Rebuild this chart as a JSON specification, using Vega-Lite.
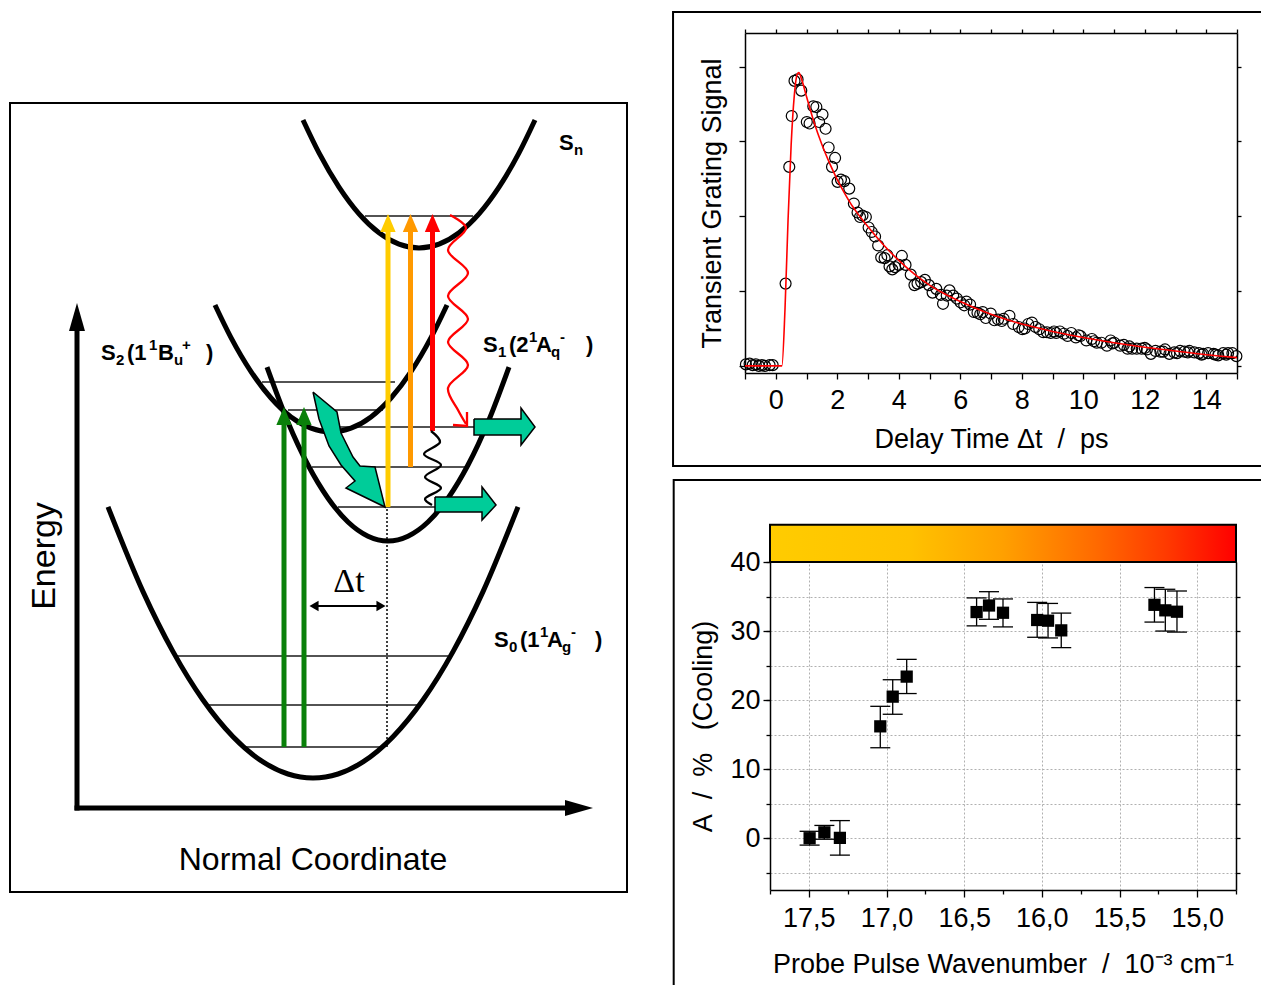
{
"$schema":"https://vega.github.io/schema/vega-lite/v6.json",
"width":1261,"height":985,"autosize":"none","padding":0,"background":"white",
"config":{"view":{"stroke":null},"font":"Liberation Sans","axis":{"labelFont":"Liberation Sans","titleFont":"Liberation Sans","labelColor":"black","titleColor":"black","tickColor":"black","domainColor":"black","titleFontWeight":"normal","grid":false,"tickWidth":1.3,"domainWidth":1.5}},
"datasets":{
"box":[{"x":-6.7,"x2":55,"y":-8.4,"y2":70.5}],
"levels":[{"x":28.8,"x2":39.6,"y":59.2},{"x":18.5,"x2":31.8,"y":42.6},{"x":21.1,"x2":30.6,"y":39.8},{"x":26.3,"x2":39.7,"y":38.1},{"x":23.5,"x2":39.0,"y":34.1},{"x":26.1,"x2":35.8,"y":30.1},{"x":10.0,"x2":37.1,"y":15.2},{"x":13.0,"x2":34.1,"y":10.3},{"x":16.7,"x2":30.6,"y":6.1}],
"curves":[
{"id":"Sn","i":0,"x":22.6,"y":68.8},{"id":"Sn","i":1,"x":24.2,"y":65.51},{"id":"Sn","i":2,"x":26.2,"y":62.09},{"id":"Sn","i":3,"x":28.2,"y":59.42},{"id":"Sn","i":4,"x":30.2,"y":57.52},{"id":"Sn","i":5,"x":32.2,"y":56.38},{"id":"Sn","i":6,"x":34.2,"y":56.0},{"id":"Sn","i":7,"x":36.2,"y":56.38},{"id":"Sn","i":8,"x":38.2,"y":57.52},{"id":"Sn","i":9,"x":40.2,"y":59.42},{"id":"Sn","i":10,"x":42.2,"y":62.09},{"id":"Sn","i":11,"x":44.2,"y":65.51},{"id":"Sn","i":12,"x":45.8,"y":68.8},
{"id":"S2","i":0,"x":13.8,"y":50.3},{"id":"S2","i":1,"x":15.4,"y":47.04},{"id":"S2","i":2,"x":17.4,"y":43.64},{"id":"S2","i":3,"x":19.4,"y":41.0},{"id":"S2","i":4,"x":21.4,"y":39.11},{"id":"S2","i":5,"x":23.4,"y":37.98},{"id":"S2","i":6,"x":25.4,"y":37.6},{"id":"S2","i":7,"x":27.4,"y":37.98},{"id":"S2","i":8,"x":29.4,"y":39.11},{"id":"S2","i":9,"x":31.4,"y":41.0},{"id":"S2","i":10,"x":33.4,"y":43.64},{"id":"S2","i":11,"x":35.4,"y":47.04},{"id":"S2","i":12,"x":37.0,"y":50.3},
{"id":"S1","i":0,"x":19.0,"y":44.09},{"id":"S1","i":1,"x":21.1,"y":38.58},{"id":"S1","i":2,"x":23.1,"y":34.3},{"id":"S1","i":3,"x":25.1,"y":30.98},{"id":"S1","i":4,"x":27.1,"y":28.6},{"id":"S1","i":5,"x":29.1,"y":27.18},{"id":"S1","i":6,"x":31.1,"y":26.7},{"id":"S1","i":7,"x":33.1,"y":27.18},{"id":"S1","i":8,"x":35.1,"y":28.6},{"id":"S1","i":9,"x":37.1,"y":30.98},{"id":"S1","i":10,"x":39.1,"y":34.3},{"id":"S1","i":11,"x":41.1,"y":38.58},{"id":"S1","i":12,"x":43.2,"y":44.09},
{"id":"S0","i":0,"x":3.1,"y":30.11},{"id":"S0","i":1,"x":6.6,"y":21.64},{"id":"S0","i":2,"x":9.6,"y":15.64},{"id":"S0","i":3,"x":12.6,"y":10.8},{"id":"S0","i":4,"x":15.6,"y":7.13},{"id":"S0","i":5,"x":18.6,"y":4.61},{"id":"S0","i":6,"x":21.1,"y":3.4},{"id":"S0","i":7,"x":23.6,"y":3.0},{"id":"S0","i":8,"x":26.1,"y":3.4},{"id":"S0","i":9,"x":28.6,"y":4.61},{"id":"S0","i":10,"x":31.6,"y":7.13},{"id":"S0","i":11,"x":34.6,"y":10.8},{"id":"S0","i":12,"x":37.6,"y":15.64},{"id":"S0","i":13,"x":40.6,"y":21.64},{"id":"S0","i":14,"x":44.1,"y":30.11}],
"dotted":[{"x":31.0,"y":6.1,"y2":30.1}],
"shafts":[{"id":"green1","x":20.7,"y":6.1,"y2":38.4},{"id":"green2","x":22.7,"y":6.1,"y2":38.4},{"id":"yellow","x":31.1,"y":30.1,"y2":58.0},{"id":"orange","x":33.35,"y":34.1,"y2":58.0},{"id":"red","x":35.55,"y":37.7,"y2":58.0}],
"heads":[{"id":"green1","x":20.7,"y":39.2},{"id":"green2","x":22.7,"y":39.2},{"id":"yellow","x":31.1,"y":58.5},{"id":"orange","x":33.35,"y":58.5},{"id":"red","x":35.55,"y":58.5}],
"axlines":[{"x":0,"x2":0,"y":-0.25,"y2":47.8},{"x":-0.25,"x2":48.8,"y":0,"y2":0}],
"axheadUp":[{"x":0,"y":49.1}],
"axheadRight":[{"x":50.2,"y":0}],
"dtline":[{"x":23.6,"x2":30.4,"y":20.2}],
"dtheadL":[{"x":23.7,"y":20.2}],
"dtheadR":[{"x":30.4,"y":20.2}],
"dttext":[{"x":27.2,"y":22.6,"label":"Δt"}],
"waves":[
{"id":"wave_red","i":0,"x":37.3,"y":59.3},{"id":"wave_red","i":1,"x":38.9,"y":58.0},{"id":"wave_red","i":2,"x":37.1,"y":55.8},{"id":"wave_red","i":3,"x":39.1,"y":53.5},{"id":"wave_red","i":4,"x":37.1,"y":51.2},{"id":"wave_red","i":5,"x":39.1,"y":48.9},{"id":"wave_red","i":6,"x":37.1,"y":46.6},{"id":"wave_red","i":7,"x":39.1,"y":44.3},{"id":"wave_red","i":8,"x":37.1,"y":42.0},{"id":"wave_red","i":9,"x":38.1,"y":39.8},{"id":"wave_red","i":10,"x":38.9,"y":38.4},
{"id":"wave_black","i":0,"x":35.4,"y":37.7},{"id":"wave_black","i":1,"x":36.3,"y":36.6},{"id":"wave_black","i":2,"x":34.7,"y":35.4},{"id":"wave_black","i":3,"x":36.4,"y":34.3},{"id":"wave_black","i":4,"x":34.8,"y":33.1},{"id":"wave_black","i":5,"x":36.4,"y":32.0},{"id":"wave_black","i":6,"x":34.8,"y":30.9},{"id":"wave_black","i":7,"x":35.5,"y":30.3}],
"redhead":[{"id":"redhead","i":0,"x":37.6,"y":38.3},{"id":"redhead","i":1,"x":39.0,"y":38.2},{"id":"redhead","i":2,"x":39.0,"y":39.6}],
"blocks":[
{"id":"up","i":0,"x":39.7,"y":38.9},{"id":"up","i":1,"x":44.4,"y":38.9},{"id":"up","i":2,"x":44.4,"y":40.0},{"id":"up","i":3,"x":45.8,"y":38.1},{"id":"up","i":4,"x":44.4,"y":36.3},{"id":"up","i":5,"x":44.4,"y":37.3},{"id":"up","i":6,"x":39.7,"y":37.3},{"id":"up","i":7,"x":39.7,"y":38.9},
{"id":"low","i":0,"x":35.8,"y":31.1},{"id":"low","i":1,"x":40.5,"y":31.1},{"id":"low","i":2,"x":40.5,"y":32.1},{"id":"low","i":3,"x":41.9,"y":30.3},{"id":"low","i":4,"x":40.5,"y":28.8},{"id":"low","i":5,"x":40.5,"y":29.6},{"id":"low","i":6,"x":35.8,"y":29.6},{"id":"low","i":7,"x":35.8,"y":31.1},
{"id":"curv","i":0,"x":23.6,"y":41.6},{"id":"curv","i":1,"x":26.0,"y":39.6},{"id":"curv","i":2,"x":26.4,"y":37.5},{"id":"curv","i":3,"x":27.6,"y":35.1},{"id":"curv","i":4,"x":28.3,"y":34.2},{"id":"curv","i":5,"x":29.8,"y":34.1},{"id":"curv","i":6,"x":30.8,"y":30.1},{"id":"curv","i":7,"x":26.9,"y":32.0},{"id":"curv","i":8,"x":27.8,"y":32.7},{"id":"curv","i":9,"x":26.4,"y":34.3},{"id":"curv","i":10,"x":25.2,"y":36.2},{"id":"curv","i":11,"x":24.2,"y":38.9},{"id":"curv","i":12,"x":23.6,"y":41.6}],
"lab_main":[
{"x":2.4,"y":44.8,"label":"S"},{"x":5.0,"y":44.8,"label":"(1"},{"x":8.1,"y":44.8,"label":"B"},{"x":12.9,"y":44.8,"label":")"},
{"x":40.6,"y":45.6,"label":"S"},{"x":43.2,"y":45.6,"label":"(2"},{"x":45.9,"y":45.6,"label":"A"},{"x":50.9,"y":45.6,"label":")"},
{"x":41.7,"y":16.1,"label":"S"},{"x":44.3,"y":16.1,"label":"(1"},{"x":47.0,"y":16.1,"label":"A"},{"x":51.8,"y":16.1,"label":")"},
{"x":48.2,"y":65.8,"label":"S"}],
"lab_sub":[
{"x":3.9,"y":44.3,"label":"2"},{"x":9.7,"y":44.3,"label":"u"},
{"x":42.1,"y":45.1,"label":"1"},{"x":47.4,"y":45.1,"label":"q"},
{"x":43.2,"y":15.6,"label":"0"},{"x":48.5,"y":15.6,"label":"g"},
{"x":49.7,"y":65.3,"label":"n"}],
"lab_sup":[
{"x":7.2,"y":45.8,"label":"1"},{"x":10.5,"y":45.8,"label":"+"},
{"x":45.2,"y":46.6,"label":"1"},{"x":48.3,"y":46.6,"label":"-"},
{"x":46.3,"y":17.1,"label":"1"},{"x":49.4,"y":17.1,"label":"-"}],
"big":[{"x":23.6,"y":-5.2,"label":"Normal Coordinate"}],
"energy":[{"x":-3.2,"y":25.2,"label":"Energy"}],
"tgframe":[{"x":-3.34,"x2":16.2,"y":-1.338,"y2":4.73}],
"tg":[
{"t":-0.97,"s":0.02},{"t":-0.85,"s":0.03},{"t":-0.75,"s":0.01},{"t":-0.65,"s":0.02},{"t":-0.55,"s":0.0},{"t":-0.45,"s":0.01},{"t":-0.35,"s":0.0},{"t":-0.2,"s":0.01},{"t":-0.1,"s":0.01},
{"t":0.32,"s":1.10},{"t":0.44,"s":2.66},{"t":0.52,"s":3.34},{"t":0.61,"s":3.81},{"t":0.71,"s":3.83},{"t":0.83,"s":3.68},{"t":1.01,"s":3.26},{"t":1.10,"s":3.24},{"t":1.22,"s":3.47},{"t":1.32,"s":3.46},{"t":1.41,"s":3.26},{"t":1.52,"s":3.36},{"t":1.62,"s":3.17},{"t":1.72,"s":2.92},{"t":1.83,"s":2.66},{"t":1.93,"s":2.78},{"t":2.01,"s":2.46},{"t":2.12,"s":2.49},{"t":2.23,"s":2.47},{"t":2.39,"s":2.37},{"t":2.54,"s":2.17},{"t":2.66,"s":2.05},{"t":2.74,"s":1.99},{"t":2.82,"s":2.01},{"t":2.93,"s":1.99},{"t":3.02,"s":1.85},{"t":3.12,"s":1.79},{"t":3.23,"s":1.73},{"t":3.33,"s":1.61},{"t":3.43,"s":1.45},{"t":3.54,"s":1.44},{"t":3.63,"s":1.48},{"t":3.70,"s":1.33},{"t":3.79,"s":1.29},{"t":3.88,"s":1.32},{"t":4.0,"s":1.35},{"t":4.10,"s":1.47},{"t":4.22,"s":1.35},{"t":4.39,"s":1.22},{"t":4.51,"s":1.08},{"t":4.61,"s":1.10},{"t":4.73,"s":1.12},{"t":4.85,"s":1.15},{"t":4.98,"s":1.08},{"t":5.10,"s":0.98},{"t":5.22,"s":1.03},{"t":5.37,"s":0.95},{"t":5.44,"s":0.83},{"t":5.56,"s":0.94},{"t":5.65,"s":1.01},{"t":5.77,"s":0.94},{"t":5.89,"s":0.90},{"t":6.01,"s":0.85},{"t":6.13,"s":0.81},{"t":6.2,"s":0.86},{"t":6.32,"s":0.82},{"t":6.44,"s":0.72},{"t":6.56,"s":0.71},{"t":6.65,"s":0.69},{"t":6.73,"s":0.72},{"t":6.83,"s":0.64},{"t":6.99,"s":0.70},{"t":7.11,"s":0.61},{"t":7.23,"s":0.62},{"t":7.35,"s":0.60},{"t":7.41,"s":0.63},{"t":7.60,"s":0.67},{"t":7.72,"s":0.56},{"t":7.90,"s":0.52},{"t":8.02,"s":0.49},{"t":8.1,"s":0.50},{"t":8.21,"s":0.56},{"t":8.33,"s":0.58},{"t":8.45,"s":0.52},{"t":8.57,"s":0.49},{"t":8.70,"s":0.45},{"t":8.82,"s":0.45},{"t":8.94,"s":0.44},{"t":9.05,"s":0.46},{"t":9.12,"s":0.44},{"t":9.24,"s":0.46},{"t":9.37,"s":0.43},{"t":9.49,"s":0.40},{"t":9.61,"s":0.44},{"t":9.76,"s":0.38},{"t":9.85,"s":0.41},{"t":9.91,"s":0.40},{"t":10.10,"s":0.34},{"t":10.28,"s":0.36},{"t":10.35,"s":0.33},{"t":10.44,"s":0.31},{"t":10.59,"s":0.31},{"t":10.77,"s":0.27},{"t":10.89,"s":0.34},{"t":10.95,"s":0.30},{"t":11.01,"s":0.31},{"t":11.20,"s":0.27},{"t":11.32,"s":0.28},{"t":11.44,"s":0.23},{"t":11.5,"s":0.26},{"t":11.59,"s":0.23},{"t":11.74,"s":0.23},{"t":11.90,"s":0.23},{"t":12.0,"s":0.24},{"t":12.07,"s":0.22},{"t":12.20,"s":0.16},{"t":12.35,"s":0.20},{"t":12.51,"s":0.19},{"t":12.6,"s":0.19},{"t":12.66,"s":0.22},{"t":12.80,"s":0.16},{"t":12.96,"s":0.18},{"t":13.05,"s":0.17},{"t":13.15,"s":0.20},{"t":13.29,"s":0.19},{"t":13.4,"s":0.18},{"t":13.45,"s":0.20},{"t":13.61,"s":0.18},{"t":13.76,"s":0.17},{"t":13.85,"s":0.15},{"t":13.90,"s":0.16},{"t":14.06,"s":0.17},{"t":14.24,"s":0.16},{"t":14.3,"s":0.15},{"t":14.39,"s":0.14},{"t":14.55,"s":0.17},{"t":14.65,"s":0.15},{"t":14.71,"s":0.17},{"t":14.85,"s":0.17},{"t":14.98,"s":0.13}],
"tgfit":[{"t":-1,"s":0},{"t":0.2,"s":0},{"t":0.3,"s":0.75},{"t":0.4,"s":1.95},{"t":0.5,"s":2.95},{"t":0.6,"s":3.6},{"t":0.7,"s":3.9},{"t":0.75,"s":3.92},{"t":0.85,"s":3.82},{"t":1.0,"s":3.6},{"t":1.25,"s":3.25},{"t":1.5,"s":2.96},{"t":1.75,"s":2.71},{"t":2.0,"s":2.49},{"t":2.25,"s":2.3},{"t":2.5,"s":2.13},{"t":2.75,"s":1.99},{"t":3.0,"s":1.86},{"t":3.5,"s":1.62},{"t":4.0,"s":1.41},{"t":4.5,"s":1.23},{"t":5.0,"s":1.08},{"t":5.5,"s":0.96},{"t":6.0,"s":0.86},{"t":6.5,"s":0.77},{"t":7.0,"s":0.69},{"t":7.5,"s":0.62},{"t":8.0,"s":0.56},{"t":8.5,"s":0.51},{"t":9.0,"s":0.46},{"t":10.0,"s":0.38},{"t":11.0,"s":0.31},{"t":12.0,"s":0.25},{"t":13.0,"s":0.2},{"t":14.0,"s":0.15},{"t":15.0,"s":0.11}],
"wnframe":[{"x":18.37,"x2":14.5,"y":-22,"y2":51.88}],
"colorbar":[{"x":17.75,"x2":14.75,"y":40,"y2":45.4}],
"wn":[{"w":17.495,"a":0.0,"lo":-1.0,"hi":1.0},{"w":17.40,"a":0.85,"lo":-0.15,"hi":1.85},{"w":17.30,"a":0.05,"lo":-2.45,"hi":2.55},{"w":17.04,"a":16.2,"lo":13.1,"hi":19.1},{"w":16.96,"a":20.5,"lo":17.95,"hi":22.95},{"w":16.87,"a":23.4,"lo":20.95,"hi":25.9},{"w":16.42,"a":32.75,"lo":30.75,"hi":34.8},{"w":16.34,"a":33.7,"lo":31.7,"hi":35.7},{"w":16.25,"a":32.65,"lo":30.6,"hi":34.65},{"w":16.03,"a":31.6,"lo":29.1,"hi":34.15},{"w":15.96,"a":31.5,"lo":29.0,"hi":34.0},{"w":15.875,"a":30.1,"lo":27.6,"hi":32.6},{"w":15.275,"a":33.8,"lo":31.3,"hi":36.3},{"w":15.205,"a":33.0,"lo":30.0,"hi":36.05},{"w":15.13,"a":32.8,"lo":29.85,"hi":35.8}]
},
"layer":[
{
"encoding":{
"x":{"field":"x","type":"quantitative","scale":{"domain":[-6.7,55],"range":[10,627],"nice":false,"zero":false},"axis":null},
"y":{"field":"y","type":"quantitative","scale":{"domain":[-8.4,70.5],"range":[892,103],"nice":false,"zero":false},"axis":null}},
"layer":[
{"data":{"name":"box"},"mark":{"type":"rect","fill":"white","fillOpacity":0,"stroke":"black","strokeWidth":2},"encoding":{"x2":{"field":"x2"},"y2":{"field":"y2"}}},
{"data":{"name":"levels"},"mark":{"type":"rule","color":"#1a1a1a","strokeWidth":1.6},"encoding":{"x2":{"field":"x2"}}},
{"data":{"name":"curves"},"mark":{"type":"line","color":"black","strokeWidth":5,"interpolate":"monotone"},"encoding":{"detail":{"field":"id","type":"nominal"},"order":{"field":"i","type":"quantitative"}}},
{"data":{"name":"dotted"},"mark":{"type":"rule","color":"black","strokeWidth":1.5,"strokeDash":[2,2]},"encoding":{"y2":{"field":"y2"}}},
{"data":{"name":"shafts"},"mark":{"type":"rule","strokeWidth":5},"encoding":{"y2":{"field":"y2"},"color":{"field":"id","type":"nominal","legend":null,"scale":{"domain":["green1","green2","yellow","orange","red","wave_red","wave_black","redhead"],"range":["#0A800A","#0A800A","#FFCC00","#FF9900","#FF0000","#FF0000","#000000","#FF0000"]}}}},
{"data":{"name":"heads"},"mark":{"type":"point","shape":"M0,-1L-0.85,1L0.85,1Z","size":324,"filled":true,"opacity":1},"encoding":{"color":{"field":"id","type":"nominal","legend":null,"scale":{"domain":["green1","green2","yellow","orange","red","wave_red","wave_black","redhead"],"range":["#0A800A","#0A800A","#FFCC00","#FF9900","#FF0000","#FF0000","#000000","#FF0000"]}}}},
{"data":{"name":"axlines"},"mark":{"type":"rule","color":"black","strokeWidth":5},"encoding":{"x2":{"field":"x2"},"y2":{"field":"y2"}}},
{"data":{"name":"axheadUp"},"mark":{"type":"point","shape":"M0,-1L-0.57,1L0.57,1Z","size":784,"filled":true,"opacity":1,"color":"black"}},
{"data":{"name":"axheadRight"},"mark":{"type":"point","shape":"M0,-1L-0.57,1L0.57,1Z","size":784,"filled":true,"opacity":1,"color":"black","angle":90}},
{"data":{"name":"dtline"},"mark":{"type":"rule","color":"black","strokeWidth":2.2},"encoding":{"x2":{"field":"x2"}}},
{"data":{"name":"dtheadL"},"mark":{"type":"point","shape":"triangle-left","size":110,"filled":true,"opacity":1,"color":"black"}},
{"data":{"name":"dtheadR"},"mark":{"type":"point","shape":"triangle-right","size":110,"filled":true,"opacity":1,"color":"black"}},
{"data":{"name":"dttext"},"mark":{"type":"text","font":"Liberation Serif","fontSize":34,"align":"center","baseline":"middle","color":"black"},"encoding":{"text":{"field":"label"}}},
{"data":{"name":"waves"},"mark":{"type":"line","strokeWidth":2.3,"interpolate":"catmull-rom"},"encoding":{"detail":{"field":"id","type":"nominal"},"order":{"field":"i","type":"quantitative"},"color":{"field":"id","type":"nominal","legend":null,"scale":{"domain":["green1","green2","yellow","orange","red","wave_red","wave_black","redhead"],"range":["#0A800A","#0A800A","#FFCC00","#FF9900","#FF0000","#FF0000","#000000","#FF0000"]}}}},
{"data":{"name":"redhead"},"mark":{"type":"line","strokeWidth":2.3,"color":"#FF0000"},"encoding":{"order":{"field":"i","type":"quantitative"}}},
{"data":{"name":"blocks"},"mark":{"type":"line","fill":"#00CC99","stroke":"black","strokeWidth":1.5},"encoding":{"detail":{"field":"id","type":"nominal"},"order":{"field":"i","type":"quantitative"}}},
{"data":{"name":"lab_main"},"mark":{"type":"text","font":"Liberation Sans","fontWeight":"bold","fontSize":22,"align":"left","baseline":"alphabetic","color":"black"},"encoding":{"text":{"field":"label"}}},
{"data":{"name":"lab_sub"},"mark":{"type":"text","font":"Liberation Sans","fontWeight":"bold","fontSize":15,"align":"left","baseline":"alphabetic","color":"black"},"encoding":{"text":{"field":"label"}}},
{"data":{"name":"lab_sup"},"mark":{"type":"text","font":"Liberation Sans","fontWeight":"bold","fontSize":15,"align":"left","baseline":"alphabetic","color":"black"},"encoding":{"text":{"field":"label"}}},
{"data":{"name":"big"},"mark":{"type":"text","font":"Liberation Sans","fontSize":32,"align":"center","baseline":"middle","color":"black"},"encoding":{"text":{"field":"label"}}},
{"data":{"name":"energy"},"mark":{"type":"text","font":"Liberation Sans","fontSize":34,"align":"center","baseline":"middle","angle":270,"color":"black"},"encoding":{"text":{"field":"label"}}}
]
},
{
"layer":[
{"data":{"name":"tgframe"},"mark":{"type":"rect","fill":"white","fillOpacity":0,"stroke":"black","strokeWidth":2},
"encoding":{"x":{"field":"x","type":"quantitative","scale":{"domain":[-1,15],"range":[745,1237],"nice":false,"zero":false},"axis":null},"x2":{"field":"x2"},
"y":{"field":"y","type":"quantitative","scale":{"domain":[-0.095,4.45],"range":[373,33],"nice":false,"zero":false},"axis":null},"y2":{"field":"y2"}}},
{"data":{"name":"tg"},"mark":{"type":"point","shape":"circle","filled":false,"color":"black","size":120,"strokeWidth":1.2,"opacity":1},
"encoding":{
"x":{"field":"t","type":"quantitative","scale":{"domain":[-1,15],"range":[745,1237],"nice":false,"zero":false},"axis":{"orient":"bottom","offset":-612,"values":[-1,0,1,2,3,4,5,6,7,8,9,10,11,12,13,14,15],"labelExpr":"datum.value >= 0 && datum.value % 2 == 0 ? datum.label : ''","tickSize":6,"labelFontSize":27,"labelPadding":8,"title":"Delay Time Δt\u00a0\u00a0/\u00a0\u00a0ps","titleFontSize":27,"titlePadding":13}},
"y":{"field":"s","type":"quantitative","scale":{"domain":[-0.095,4.45],"range":[373,33],"nice":false,"zero":false},"axis":{"orient":"left","offset":-745,"values":[0,1,2,3,4],"labels":false,"tickSize":6,"title":"Transient Grating Signal","titleFontSize":27,"titlePadding":12}}}},
{"data":{"name":"tgfit"},"mark":{"type":"line","color":"#FF0000","strokeWidth":1.6,"interpolate":"monotone"},
"encoding":{
"x":{"field":"t","type":"quantitative","scale":{"domain":[-1,15],"range":[745,1237],"nice":false,"zero":false},"axis":{"orient":"top","offset":-33,"values":[-1,0,1,2,3,4,5,6,7,8,9,10,11,12,13,14,15],"labels":false,"tickSize":4,"title":null}},
"y":{"field":"s","type":"quantitative","scale":{"domain":[-0.095,4.45],"range":[373,33],"nice":false,"zero":false},"axis":{"orient":"right","offset":-24,"values":[0,1,2,3,4],"labels":false,"tickSize":4,"title":null}}}}
],
"resolve":{"axis":{"x":"independent","y":"independent"}}
},
{
"layer":[
{"data":{"name":"wnframe"},"mark":{"type":"rect","fill":"white","fillOpacity":0,"stroke":"black","strokeWidth":2},
"encoding":{"x":{"field":"x","type":"quantitative","scale":{"domain":[14.75,17.75],"range":[1236,770],"nice":false,"zero":false},"axis":null},"x2":{"field":"x2"},
"y":{"field":"y","type":"quantitative","scale":{"domain":[-7.5,40],"range":[890,562],"nice":false,"zero":false},"axis":null},"y2":{"field":"y2"}}},
{"data":{"name":"wn"},"mark":{"type":"rule","color":"black","strokeWidth":1.3},
"encoding":{
"x":{"field":"w","type":"quantitative","scale":{"domain":[14.75,17.75],"range":[1236,770],"nice":false,"zero":false},"axis":{"orient":"bottom","offset":-95,"values":[17.75,17.25,16.75,16.25,15.75,15.25,14.75],"labels":false,"domain":false,"tickSize":4,"title":null}},
"y":{"field":"lo","type":"quantitative","scale":{"domain":[-7.5,40],"range":[890,562],"nice":false,"zero":false},"axis":{"orient":"left","offset":-770,"values":[-5,0,5,10,15,20,25,30,35,40],"labels":false,"domain":false,"tickSize":4,"title":null,"grid":true,"gridDash":[2,2],"gridColor":"#b0b0b0"}},
"y2":{"field":"hi"}}},
{"data":{"name":"wn"},"mark":{"type":"tick","orient":"horizontal","size":20,"thickness":1.3,"color":"black","opacity":1},
"encoding":{"x":{"field":"w","type":"quantitative","scale":{"domain":[14.75,17.75],"range":[1236,770],"nice":false,"zero":false},"axis":null},
"y":{"field":"lo","type":"quantitative","scale":{"domain":[-7.5,40],"range":[890,562],"nice":false,"zero":false},"axis":null}}},
{"data":{"name":"wn"},"mark":{"type":"tick","orient":"horizontal","size":20,"thickness":1.3,"color":"black","opacity":1},
"encoding":{"x":{"field":"w","type":"quantitative","scale":{"domain":[14.75,17.75],"range":[1236,770],"nice":false,"zero":false},"axis":null},
"y":{"field":"hi","type":"quantitative","scale":{"domain":[-7.5,40],"range":[890,562],"nice":false,"zero":false},"axis":null}}},
{"data":{"name":"wn"},"mark":{"type":"point","shape":"square","filled":true,"color":"black","size":150,"opacity":1},
"encoding":{
"x":{"field":"w","type":"quantitative","scale":{"domain":[14.75,17.75],"range":[1236,770],"nice":false,"zero":false},"axis":{"orient":"bottom","offset":-95,"values":[17.5,17,16.5,16,15.5,15],"labelExpr":"replace(format(datum.value,'.1f'),'.',',')","tickSize":7,"labelFontSize":27,"labelPadding":8,"title":"Probe Pulse Wavenumber\u00a0\u00a0/\u00a0\u00a010⁻³ cm⁻¹","titleFontSize":27,"titlePadding":20}},
"y":{"field":"a","type":"quantitative","scale":{"domain":[-7.5,40],"range":[890,562],"nice":false,"zero":false},"axis":{"orient":"left","offset":-770,"values":[0,10,20,30,40],"tickSize":7,"labelFontSize":27,"labelPadding":3,"title":"A\u00a0\u00a0/\u00a0\u00a0%\u00a0\u00a0\u00a0(Cooling)","titleFontSize":27,"titlePadding":12}}}},
{"data":{"name":"colorbar"},"mark":{"type":"rect","stroke":"black","strokeWidth":2,"color":{"gradient":"linear","x1":0,"x2":1,"y1":0,"y2":0,"stops":[{"offset":0,"color":"#FFCC00"},{"offset":0.3,"color":"#FFC200"},{"offset":0.5,"color":"#FFA000"},{"offset":0.7,"color":"#FF6A00"},{"offset":0.85,"color":"#FF3A00"},{"offset":1,"color":"#FF0000"}]}},
"encoding":{"x":{"field":"x","type":"quantitative","scale":{"domain":[14.75,17.75],"range":[1236,770],"nice":false,"zero":false},"axis":{"orient":"top","offset":-562,"values":[17.5,17,16.5,16,15.5,15],"labels":false,"ticks":false,"domain":false,"title":null,"grid":true,"gridDash":[2,2],"gridColor":"#b0b0b0"}},"x2":{"field":"x2"},
"y":{"field":"y","type":"quantitative","scale":{"domain":[-7.5,40],"range":[890,562],"nice":false,"zero":false},"axis":{"orient":"right","offset":-25,"values":[-5,0,5,10,15,20,25,30,35],"labels":false,"tickSize":4,"title":null}},"y2":{"field":"y2"}}}
],
"resolve":{"axis":{"x":"independent","y":"independent"}}
}
],
"resolve":{"scale":{"x":"independent","y":"independent","color":"independent"},"axis":{"x":"independent","y":"independent"}}
}
